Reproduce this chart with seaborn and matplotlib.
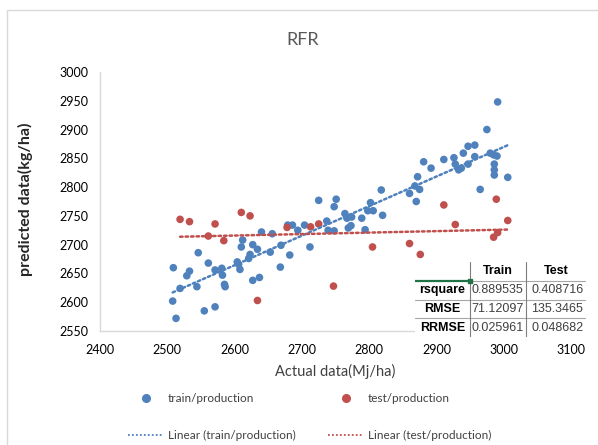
import matplotlib
matplotlib.use("Agg")
import matplotlib.pyplot as plt
from matplotlib.lines import Line2D
from matplotlib.patches import Rectangle
import numpy as np
import pandas as pd
import seaborn as sns

# Training set: actual vs predicted yield
train_actual = [2509, 2519, 2508, 2513, 2529, 2533, 2544, 2546, 2555, 2561,
                2571, 2571, 2581, 2582, 2585, 2586, 2604, 2606, 2608, 2610,
                2612, 2621, 2623, 2627, 2627, 2634, 2637, 2640, 2653, 2656,
                2668, 2669, 2682, 2679, 2686, 2694, 2704, 2712,
                2725, 2751, 2748, 2764, 2767, 2769, 2737, 2739, 2748,
                2818, 2820, 2802, 2798, 2806, 2789, 2794, 2774, 2773,
                2872, 2868, 2860, 2870, 2875,
                2881, 2892, 2911, 2926, 2928, 2933, 2937, 2940, 2947, 2957,
                2947, 2957, 2965, 2975, 2991, 2980, 2985, 2990, 2986, 2986,
                2986, 3006]
train_pred = [2660, 2624, 2602, 2572, 2646, 2654, 2627, 2686, 2585, 2668,
              2592, 2656, 2659, 2647, 2631, 2627, 2670, 2666, 2657, 2696,
              2708, 2676, 2683, 2700, 2638, 2692, 2643, 2722, 2687, 2719,
              2661, 2699, 2682, 2734, 2734, 2725, 2734, 2696,
              2777, 2779, 2766, 2754, 2746, 2729, 2741, 2725, 2724,
              2795, 2751, 2773, 2759, 2759, 2746, 2726, 2748, 2733,
              2818, 2802, 2789, 2775, 2796,
              2844, 2833, 2848, 2851, 2840, 2830, 2833, 2859, 2871, 2873,
              2840, 2853, 2796, 2900, 2948, 2859, 2856, 2854, 2840, 2830,
              2821, 2817]

# Test set: actual vs predicted yield
test_actual = [2519, 2533, 2561, 2571, 2584, 2610, 2623, 2634, 2678, 2713,
               2725, 2747, 2805, 2860, 2876, 2911, 2928, 2989, 2985, 2991,
               3006]
test_pred = [2744, 2740, 2715, 2736, 2707, 2756, 2750, 2603, 2730, 2731,
             2736, 2628, 2696, 2702, 2683, 2769, 2735, 2779, 2713, 2721,
             2742]

# Goodness-of-fit summary
stat_names = ["rsquare", "RMSE", "RRMSE"]
stat_cols = ["Train", "Test"]
train_stats = ["0.889535", "71.12097", "0.025961"]
test_stats = ["0.408716", "135.3465", "0.048682"]

x_ticks = [2400, 2500, 2600, 2700, 2800, 2900, 3000, 3100]
y_ticks = [2550, 2600, 2650, 2700, 2750, 2800, 2850, 2900, 2950, 3000]

BLUE = "#4F81BD"
RED = "#C0504D"
TEXT = "#404040"
GRID = "#D9D9D9"

sns.set_theme(style="white")
plt.rcParams["font.family"] = ["Lato", "DejaVu Sans"]

W, H = 598, 445
fig = plt.figure(figsize=(W / 100, H / 100), dpi=100)
fig.patch.set_facecolor("white")

# chart-area frame
fig.add_artist(Rectangle((7 / W, -0.05), 1.0, 1 - 10 / H + 0.05,
                         transform=fig.transFigure, fill=False,
                         edgecolor=GRID, linewidth=1.0))


def px_box(left, top, right, bottom):
    return [left / W, 1 - bottom / H, (right - left) / W, (bottom - top) / H]


ax = fig.add_axes(px_box(100, 72, 571, 331))

train_df = pd.DataFrame({"actual": train_actual, "pred": train_pred})
test_df = pd.DataFrame({"actual": test_actual, "pred": test_pred})

sns.scatterplot(data=train_df, x="actual", y="pred", color=BLUE, s=30,
                edgecolor="none", ax=ax, zorder=3)
sns.scatterplot(data=test_df, x="actual", y="pred", color=RED, s=30,
                edgecolor="none", ax=ax, zorder=3)
sns.regplot(data=train_df, x="actual", y="pred", scatter=False, ci=None,
            ax=ax, line_kws=dict(color=BLUE, linestyle=(0, (1, 1.2)),
                                 linewidth=1.8, dash_capstyle="round", zorder=4))
sns.regplot(data=test_df, x="actual", y="pred", scatter=False, ci=None,
            ax=ax, line_kws=dict(color=RED, linestyle=(0, (1, 1.2)),
                                 linewidth=1.8, dash_capstyle="round", zorder=4))

ax.set_xlim(2400, 3100)
ax.set_ylim(2550, 3000)
ax.set_xticks(x_ticks)
ax.set_yticks(y_ticks)
ax.tick_params(axis="both", length=0, labelsize=9, labelcolor="black")
ax.tick_params(axis="x", pad=9)
ax.tick_params(axis="y", pad=8)
for side in ["top", "right"]:
    ax.spines[side].set_visible(False)
for side in ["left", "bottom"]:
    ax.spines[side].set_color(GRID)
    ax.spines[side].set_linewidth(1.0)
ax.grid(False)

ax.set_xlabel("Actual data(Mj/ha)", fontsize=10.5, color=TEXT, labelpad=6)
ax.set_ylabel("")
fig.text(25 / W, 1 - 199 / H, "predicted data(kg/ha)", rotation=90,
         ha="center", va="center", fontsize=11.5, color="#262626",
         fontweight="bold")

fig.text(303 / W, 1 - 40 / H, "RFR", ha="center", va="center",
         fontsize=13, color="#595959")

# statistics table drawn over the lower right of the plot
tax = fig.add_axes(px_box(415, 262, 586, 337), zorder=5)
tax.set_xlim(0, 1)
tax.set_ylim(0, 4)
tax.axis("off")
tax.add_patch(Rectangle((0, 0), 1, 4, facecolor="white", edgecolor="none"))
col_edges = [0.0, 55 / 171, 111 / 171, 1.0]
tfont = ["Liberation Sans Narrow", "Liberation Sans", "DejaVu Sans"]
# grid lines
for r in range(0, 3):
    tax.plot([col_edges[1], 1], [r + 1, r + 1], color="#A6A6A6", lw=0.8)
    tax.plot([0, col_edges[1]], [r + 1, r + 1],
             color="#217346" if r == 2 else "#A6A6A6",
             lw=1.6 if r == 2 else 0.8)
for c in col_edges[1:3]:
    tax.plot([c, c], [0, 4], color="#7F7F7F", lw=0.8)
tax.plot([col_edges[1]], [3], marker="s", color="#217346", ms=3)

for j, name in enumerate(stat_cols):
    cx = (col_edges[j + 1] + col_edges[j + 2]) / 2
    tax.text(cx, 3.5, name, ha="center", va="center", fontsize=9,
             fontweight="bold", family=tfont, color="black")
for i, name in enumerate(stat_names):
    y = 2.5 - i
    tax.text(col_edges[1] / 2, y, name, ha="center", va="center",
             fontsize=9, fontweight="bold", family=tfont, color="black")
    tax.text(col_edges[2] - 0.015, y, train_stats[i], ha="right",
             va="center", fontsize=9, family=tfont, color="#404040")
    tax.text(col_edges[3] - 0.015, y, test_stats[i], ha="right",
             va="center", fontsize=9, family=tfont, color="#404040")

# legend below the chart
handles_a = [Line2D([], [], marker="o", linestyle="none", color=BLUE, ms=5.5),
             Line2D([], [], color=BLUE, linestyle=(0, (1, 1.2)), lw=1.3)]
handles_b = [Line2D([], [], marker="o", linestyle="none", color=RED, ms=5.5),
             Line2D([], [], color=RED, linestyle=(0, (1, 1.2)), lw=1.3)]
leg_kw = dict(loc="upper left", frameon=False, fontsize=8.5, borderpad=0,
              handlelength=3.0, handletextpad=0.35, labelspacing=2.2,
              labelcolor=TEXT, borderaxespad=0)
leg1 = fig.legend(handles_a, ["train/production", "Linear (train/production)"],
                  bbox_to_anchor=(128 / W, 1 - 393 / H), **leg_kw)
leg2 = fig.legend(handles_b, ["test/production", "Linear (test/production)"],
                  bbox_to_anchor=(328 / W, 1 - 393 / H), **leg_kw)

fig.savefig("out.png", dpi=100, facecolor="white")
